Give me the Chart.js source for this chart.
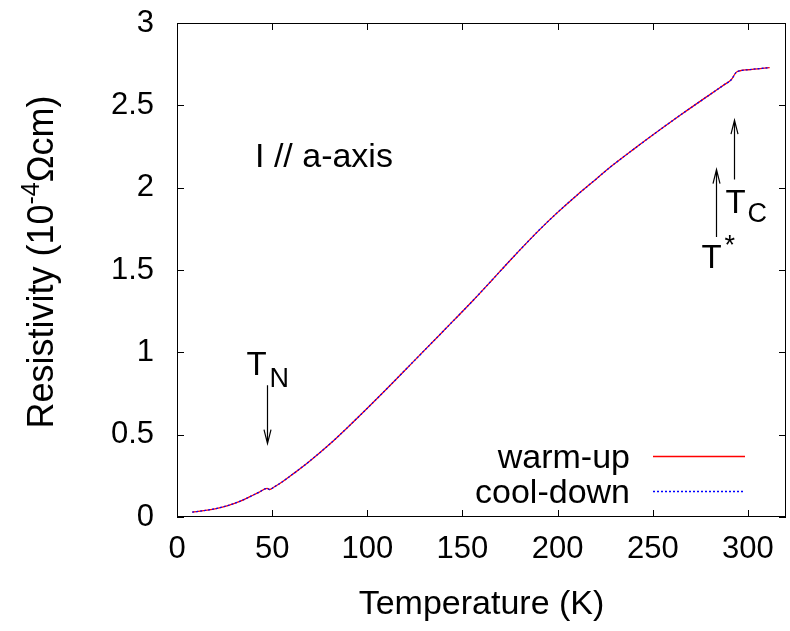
<!DOCTYPE html>
<html>
<head>
<meta charset="utf-8">
<script src="https://cdn.jsdelivr.net/npm/chart.js@4/dist/chart.umd.min.js"></script>
<style>
html,body{margin:0;padding:0;background:#ffffff;}
#wrap{width:790px;height:631px;}
</style>
</head>
<body>
<div id="wrap"><canvas id="c" width="790" height="631"></canvas></div>
<script>
// ---- data ----
const temperature = [8, 15, 20, 26.3, 33, 38.6, 43, 47.4, 48.6, 51, 55, 61.4, 70, 80, 90, 101.7, 110, 122.8, 140, 155.8, 165, 175, 185, 191.2, 200, 210, 220, 227.7, 240, 255, 264.9, 280, 288, 291.2, 293.8, 296, 300, 311.4];
const warmUp      = [0.030, 0.040, 0.050, 0.068, 0.095, 0.125, 0.150, 0.174, 0.167, 0.182, 0.211, 0.265, 0.342, 0.440, 0.548, 0.680, 0.776, 0.927, 1.130, 1.318, 1.432, 1.558, 1.680, 1.753, 1.850, 1.953, 2.050, 2.125, 2.234, 2.362, 2.444, 2.565, 2.629, 2.655, 2.700, 2.710, 2.716, 2.729];
const coolDown    = [0.030, 0.040, 0.050, 0.068, 0.095, 0.125, 0.150, 0.174, 0.167, 0.182, 0.211, 0.265, 0.342, 0.440, 0.548, 0.680, 0.776, 0.927, 1.130, 1.318, 1.432, 1.558, 1.680, 1.753, 1.850, 1.953, 2.050, 2.125, 2.234, 2.362, 2.444, 2.565, 2.629, 2.655, 2.700, 2.710, 2.716, 2.729];
const xTickValues = [0, 50, 100, 150, 200, 250, 300];
const yTickValues = [0, 0.5, 1, 1.5, 2, 2.5, 3];
const seriesNames = ['warm-up', 'cool-down'];

const FONT = '"Liberation Sans", Arial, Helvetica, sans-serif';

const overlay = {
  id: 'overlay',
  afterDraw(chart) {
    const ctx = chart.ctx;
    const a = chart.chartArea;
    const xs = chart.scales.x, ys = chart.scales.y;
    ctx.save();
    // frame
    ctx.strokeStyle = '#000';
    ctx.lineWidth = 1;
    ctx.strokeRect(Math.round(a.left) + 0.5, Math.round(a.top) + 0.5, Math.round(a.right - a.left) - 1, Math.round(a.bottom - a.top) - 1);
    // inward ticks, mirrored
    const tl = 7;
    ctx.beginPath();
    xTickValues.forEach(v => {
      const px = Math.round(xs.getPixelForValue(v)) + 0.5;
      ctx.moveTo(px, a.bottom); ctx.lineTo(px, a.bottom - tl);
      ctx.moveTo(px, a.top); ctx.lineTo(px, a.top + tl);
    });
    yTickValues.forEach(v => {
      const py = Math.round(ys.getPixelForValue(v)) + 0.5;
      ctx.moveTo(a.left, py); ctx.lineTo(a.left + tl, py);
      ctx.moveTo(a.right, py); ctx.lineTo(a.right - tl, py);
    });
    ctx.stroke();

    ctx.fillStyle = '#000';
    ctx.textAlign = 'left';
    ctx.textBaseline = 'alphabetic';

    // x title
    ctx.font = '34px ' + FONT;
    ctx.textAlign = 'center';
    ctx.fillText('Temperature (K)', (a.left + a.right) / 2, 614);

    // y title with superscript
    ctx.save();
    ctx.translate(53, 262);
    ctx.rotate(-Math.PI / 2);
    const big = '36px ' + FONT, small = '25px ' + FONT;
    const p1 = 'Resistivity (10', p2 = '-4', p3 = '\u03A9cm)';
    ctx.font = big; const w1 = ctx.measureText(p1).width; const w3 = ctx.measureText(p3).width;
    ctx.font = small; const w2 = ctx.measureText(p2).width;
    let x0 = -(w1 + w2 + w3) / 2;
    ctx.textAlign = 'left';
    ctx.font = big; ctx.fillText(p1, x0, 0); x0 += w1;
    ctx.font = small; ctx.fillText(p2, x0, -14); x0 += w2;
    ctx.font = big; ctx.fillText(p3, x0, 0);
    ctx.restore();

    // in-plot label
    ctx.textAlign = 'left';
    ctx.font = '34px ' + FONT;
    ctx.fillText('I // a-axis', 255, 167);

    // arrows
    function arrow(xv, y1v, y2v) {
      const px = Math.round(xs.getPixelForValue(xv)) + 0.5;
      const pa = ys.getPixelForValue(y1v), pb = ys.getPixelForValue(y2v);
      ctx.beginPath();
      ctx.moveTo(px, pa); ctx.lineTo(px, pb);
      const dir = pb > pa ? 1 : -1;
      ctx.moveTo(px - 3.5, pb - dir * 14); ctx.lineTo(px, pb); ctx.lineTo(px + 3.5, pb - dir * 14);
      ctx.stroke();
      return {x: px, a: pa, b: pb};
    }
    ctx.strokeStyle = '#000';
    ctx.lineWidth = 1.2;
    const tn = arrow(47.3, 0.80, 0.446);
    const ts = arrow(283.2, 1.70, 2.11);
    const tc = arrow(292.6, 2.05, 2.41);

    const capFont = '33px ' + FONT, subFont = '27px ' + FONT;
    // T_N
    ctx.font = capFont; ctx.fillText('T', tn.x - 21, tn.a - 10);
    ctx.font = subFont; ctx.fillText('N', tn.x + 2, tn.a + 2);
    // T*
    ctx.font = capFont; ctx.fillText('T', ts.x - 15, ts.a + 31);
    ctx.font = subFont; ctx.fillText('*', ts.x + 8, ts.a + 17);
    // T_C
    ctx.font = capFont; ctx.fillText('T', tc.x - 9, tc.a + 34);
    ctx.font = subFont; ctx.fillText('C', tc.x + 13, tc.a + 43);

    // legend (text then sample line)
    ctx.font = '34px ' + FONT;
    ctx.textAlign = 'right';
    const legY = [456, 491];
    chart.data.datasets.forEach((ds, i) => {
      const idx = seriesNames.indexOf(ds.label);
      const y = legY[idx];
      ctx.fillStyle = '#000';
      ctx.fillText(ds.label, 630, y + 11.5);
      ctx.beginPath();
      ctx.strokeStyle = ds.borderColor;
      ctx.lineWidth = ds.borderWidth;
      ctx.setLineDash(ds.borderDash || []);
      ctx.moveTo(653, y + 0.5); ctx.lineTo(745, y + 0.5);
      ctx.stroke();
      ctx.setLineDash([]);
    });
    ctx.restore();
  }
};

const toPoints = (xs, ys) => xs.map((x, i) => ({x: x, y: ys[i]}));

new Chart(document.getElementById('c'), {
  type: 'line',
  data: {
    datasets: [
      {label: seriesNames[0], data: toPoints(temperature, warmUp), borderColor: '#ff0000', borderWidth: 1.3, pointRadius: 0, cubicInterpolationMode: 'monotone', fill: false, order: 1},
      {label: seriesNames[1], data: toPoints(temperature, coolDown), borderColor: '#0000ff', borderWidth: 1.3, borderDash: [2, 2], pointRadius: 0, cubicInterpolationMode: 'monotone', fill: false, order: 0}
    ]
  },
  options: {
    responsive: false,
    animation: false,
    devicePixelRatio: 1,
    layout: {padding: {top: 23, right: 4, left: 0, bottom: 0}},
    plugins: {legend: {display: false}, tooltip: {enabled: false}},
    scales: {
      x: {
        type: 'linear', min: 0, max: 320,
        afterBuildTicks: s => { s.ticks = xTickValues.map(v => ({value: v})); },
        afterFit: s => { s.height = 114; s.paddingLeft = 0; s.paddingRight = 0; },
        grid: {display: false, drawTicks: false},
        border: {display: false},
        ticks: {color: '#000', font: {family: FONT, size: 31}, padding: 14, maxRotation: 0, autoSkip: false, callback: v => String(v)}
      },
      y: {
        type: 'linear', min: 0, max: 3,
        afterBuildTicks: s => { s.ticks = yTickValues.map(v => ({value: v})); },
        afterFit: s => { s.width = 177; s.paddingTop = 0; s.paddingBottom = 0; },
        grid: {display: false, drawTicks: false},
        border: {display: false},
        ticks: {color: '#000', font: {family: FONT, size: 31}, padding: 23, autoSkip: false, callback: v => String(v)}
      }
    }
  },
  plugins: [overlay]
});
</script>
</body>
</html>
